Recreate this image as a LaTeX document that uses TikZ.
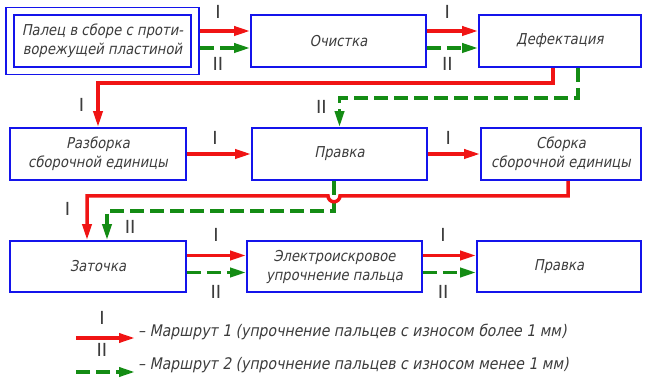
\documentclass[tikz,border=0pt]{standalone}
\usepackage{fontspec}
\setmainfont{DejaVu Sans}
\newfontfamily\gost{DejaVu Sans}[FakeStretch=0.88,FakeSlant=0.2]
\usetikzlibrary{arrows.meta}

\definecolor{boxblue}{RGB}{20,20,235}
\definecolor{redline}{RGB}{240,20,20}
\definecolor{greenline}{RGB}{20,140,20}
\definecolor{txtgray}{RGB}{60,60,60}

\begin{document}
\begin{tikzpicture}[x=1pt, y=1pt,
  box/.style={draw=boxblue, line width=1.6pt, minimum height=52pt, align=center,
    text=txtgray, font=\gost\fontsize{15}{19}\selectfont},
  route1/.style={redline, line width=3.5pt, -{Triangle[length=16pt,width=9pt]}},
  route2/.style={greenline, line width=3.5pt, dash pattern=on 14pt off 6pt,
    -{Triangle[length=16pt,width=9pt]}},
  tick/.style={text=txtgray, inner sep=0pt, font=\fontsize{18}{18}\selectfont},
  legend/.style={text=txtgray, inner sep=0pt, anchor=west, font=\gost\fontsize{16}{19}\selectfont}]

\useasboundingbox (0,0) rectangle (647,383);

% Row 1
\node[box, minimum width=177pt] (pin) at (102.5,342) {Палец в сборе с проти-\\ворежущей пластиной};
\node[draw=boxblue, line width=1.6pt, minimum width=193pt, minimum height=67pt] (pinout) at (102.5,342) {};
\node[box, minimum width=175pt] (och) at (338.5,342) {Очистка};
\node[box, minimum width=162pt] (def) at (560,342) {Дефектация};

% Row 2
\node[box, minimum width=176pt] (raz) at (98,229) {Разборка\\сборочной единицы};
\node[box, minimum width=175pt] (pr1) at (339.5,229) {Правка};
\node[box, minimum width=160pt] (sb) at (561,229) {Сборка\\сборочной единицы};

% Row 3
\node[box, minimum width=176pt, minimum height=51pt] (zat) at (98,116.5) {Заточка};
\node[box, minimum width=175pt, minimum height=51pt] (el) at (334.5,116.5) {Электроискровое\\упрочнение пальца};
\node[box, minimum width=164pt, minimum height=51pt] (pr2) at (559,116.5) {Правка};

% Route 1 and route 2 in row 1
\draw[route1] ([yshift=10pt]pinout.east) -- ([yshift=10pt]och.west) node[tick, pos=.36, above=11pt] {I};
\draw[route2] ([yshift=-7pt]pinout.east) -- ([yshift=-7pt]och.west) node[tick, pos=.36, below=8pt] {II};
\draw[route1] ([yshift=10pt]och.east) -- ([yshift=10pt]def.west) node[tick, pos=.4, above=11pt] {I};
\draw[route2] ([yshift=-7pt]och.east) -- ([yshift=-7pt]def.west) node[tick, pos=.4, below=8pt] {II};

% Down to row 2
\draw[route1] ([xshift=-7pt]def.south) -- ++(0,-15) -| (raz.north) node[tick, pos=.75, left=12pt] {I};
\draw[route2] ([xshift=18pt]def.south) -- ++(0,-30) -| (pr1.north) node[tick, pos=.65, left=11pt] {II};

% Row 2
\draw[route1] (raz.east) -- (pr1.west) node[tick, pos=.44, above=8pt] {I};
\draw[route1] (pr1.east) -- (sb.west) node[tick, pos=.39, above=8pt] {I};

% Down to row 3
\draw[route2] ([xshift=-5.5pt]pr1.south) -- ++(0,-30) -| ([xshift=9pt]zat.north) node[tick, pos=.78, right=16pt] {II};
\draw[route1] ([xshift=7pt]sb.south) -- ++(0,-15) -- ([xshift=0.5pt,yshift=-15pt]pr1.south)
  arc[start angle=0, end angle=-180, radius=6pt] -| ([xshift=-11pt]zat.north) node[tick, pos=.65, left=15pt] {I};

% Row 3
\draw[route1] ([yshift=11pt]zat.east) -- ([yshift=11pt]el.west) node[tick, pos=.49, above=12pt] {I};
\draw[route2] ([yshift=-6pt]zat.east) -- ([yshift=-6pt]el.west) node[tick, pos=.49, below=11pt] {II};
\draw[route1] ([yshift=11pt]el.east) -- ([yshift=11pt]pr2.west) node[tick, pos=.38, above=12pt] {I};
\draw[route2] ([yshift=-6pt]el.east) -- ([yshift=-6pt]pr2.west) node[tick, pos=.38, below=11pt] {II};

% Legend
\coordinate (l1a) at (76,45);
\coordinate (l1b) at (135,45);
\coordinate (l2a) at (76,11);
\coordinate (l2b) at (135,11);
\draw[route1] (l1a) -- (l1b) node[tick, pos=.44, above=12pt] {I};
\draw[route2] (l2a) -- (l2b) node[tick, pos=.44, above=14pt] {II};
\node[legend] (leg1) at (138,51) {– Маршрут 1 (упрочнение пальцев с износом более 1 мм)};
\node[legend] (leg2) at (138,18) {– Маршрут 2 (упрочнение пальцев с износом менее 1 мм)};

\end{tikzpicture}
\end{document}
